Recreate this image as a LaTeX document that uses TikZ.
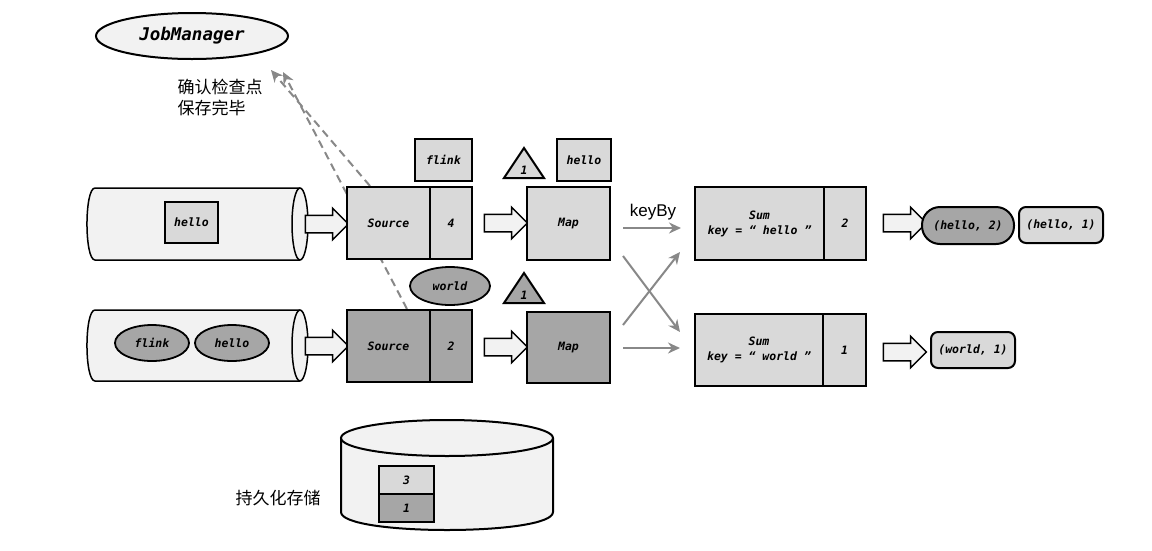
\documentclass[tikz,border=0pt]{standalone}
\usepackage{fontspec}
\setmainfont{Liberation Sans}
\newfontfamily\cjk{Noto Sans CJK SC}
\newfontfamily\monof{DejaVu Sans Mono}
\usetikzlibrary{shapes.geometric,shapes.arrows,arrows.meta,calc}
\pgfdeclarelayer{bg}
\pgfsetlayers{bg,main}
\definecolor{lg}{RGB}{217,217,217}
\definecolor{dg}{RGB}{166,166,166}
\definecolor{pale}{RGB}{242,242,242}
\definecolor{agray}{RGB}{136,136,136}
\tikzset{
  lbl/.style={font=\monof\bfseries\itshape\fontsize{11.5}{15}\selectfont},
  boxn/.style={draw, line width=2pt, fill=lg, inner sep=0pt, lbl, align=center},
  darkn/.style={boxn, fill=dg},
  ell/.style={ellipse, draw, line width=1.8pt, fill=dg, inner sep=0pt, lbl},
  barrow/.style={single arrow, draw, fill=pale, line width=1.5pt, minimum height=43pt,
    text height=8pt, text depth=8pt, text width=0pt, inner sep=0pt,
    single arrow head extend=7pt, single arrow tip angle=90},
  garrow/.style={draw=agray, line width=2pt, -{Stealth[length=12pt,width=11pt]}},
  dasharrow/.style={draw=agray, line width=2pt, dash pattern=on 8pt off 5pt,
    -{Stealth[length=12pt,width=11pt]}},
  cjkt/.style={font=\cjk\fontsize{17}{21}\selectfont, align=left}
}
\begin{document}
\begin{tikzpicture}[x=1pt,y=-1pt]
\useasboundingbox (0,0) rectangle (1152,550);
% JobManager
\node[ellipse, draw, line width=2pt, fill=pale, minimum width=192pt, minimum height=46pt,
  font=\monof\bfseries\itshape\fontsize{17.5}{19}\selectfont] (jm) at (192,36) {JobManager};
\node[cjkt, anchor=west] (ack) at (174,97) {确认检查点\\保存完毕};
\coordinate (jmA) at (271,70);
\coordinate (jmB) at (283,72);
% cylinders (queues)
\draw[line width=1.5pt, fill=pale] (300,188) -- (95,188) .. controls (84.3,188) and (84.3,260) .. (95,260) -- (300,260);
\draw[line width=1.5pt, fill=pale] (300,224) ellipse [x radius=8, y radius=36];
\draw[line width=1.5pt, fill=pale] (300,310) -- (95,310) .. controls (84.3,310) and (84.3,381) .. (95,381) -- (300,381);
\draw[line width=1.5pt, fill=pale] (300,345.5) ellipse [x radius=8, y radius=35.5];
\node[boxn, minimum width=53pt, minimum height=41pt] (q1) at (191.5,222.5) {hello};
\node[ell, minimum width=74pt, minimum height=36pt] (q2a) at (152,343) {flink};
\node[ell, minimum width=74pt, minimum height=36pt] (q2b) at (232,343) {hello};
% block arrows
\node[barrow] (ba1) at (322.5,224) {};
\node[barrow] (ba2) at (322.5,346) {};
\node[barrow] (ba3) at (501.5,223) {};
\node[barrow] (ba4) at (501.5,347) {};
\node[barrow] (ba5) at (900.5,223) {};
\node[barrow] (ba6) at (900.5,352) {};
% sources
\node[boxn, minimum width=83pt, minimum height=72pt] (src1) at (388.5,223) {Source};
\node[boxn, minimum width=42pt, minimum height=72pt] (c1) at (451,223) {4};
\node[darkn, minimum width=83pt, minimum height=72pt] (src2) at (388.5,346) {Source};
\node[darkn, minimum width=42pt, minimum height=72pt] (c2) at (451,346) {2};
\node[boxn, minimum width=57pt, minimum height=42pt] (fl) at (443.5,160) {flink};
\node[ell, minimum width=80pt, minimum height=38pt] (wo) at (450,286) {world};
% maps
\node[boxn, minimum width=83pt, minimum height=73pt] (map1) at (568.5,223.5) {Map};
\node[darkn, minimum width=83pt, minimum height=71pt] (map2) at (568.5,347.5) {Map};
\draw[line width=2pt, fill=lg, line join=miter] (524,148) -- (544,178) -- (504,178) -- cycle;
\node[lbl] (t1) at (524,170) {1};
\draw[line width=2pt, fill=dg, line join=miter] (524,273) -- (544,303) -- (504,303) -- cycle;
\node[lbl] (t2) at (524,295) {1};
\node[boxn, minimum width=54pt, minimum height=42pt] (hb) at (584,160) {hello};
\node[font=\fontsize{17}{20}\selectfont] (kb) at (653,212) {keyBy};
% sums
\node[boxn, minimum width=129pt, minimum height=73pt] (sum1) at (759.5,223.5) {Sum\\key = “ hello ”};
\node[boxn, minimum width=42pt, minimum height=73pt] (sc1) at (845,223.5) {2};
\node[boxn, minimum width=128pt, minimum height=72pt] (sum2) at (759,350) {Sum\\key = “ world ”};
\node[boxn, minimum width=43pt, minimum height=72pt] (sc2) at (844.5,350) {1};
% results
\node[darkn, rounded corners=18pt, minimum width=92pt, minimum height=37pt] (r1) at (968,225.5) {(hello, 2)};
\node[boxn, rounded corners=7pt, minimum width=84pt, minimum height=36pt] (r2) at (1061,225) {(hello, 1)};
\node[boxn, rounded corners=7pt, minimum width=84pt, minimum height=36pt] (r3) at (973,350) {(world, 1)};
% gray arrows
\draw[garrow] ([shift={(12,4.5)}]map1.east) -- ([shift={(-13,4.5)}]sum1.west);
\draw[garrow] ([shift={(12,32.5)}]map1.east) -- ([shift={(-14,-18)}]sum2.west);
\draw[garrow] ([shift={(12,-22.5)}]map2.east) -- ([shift={(-14,28.5)}]sum1.west);
\draw[garrow] ([shift={(12,0.5)}]map2.east) -- ([shift={(-14,-2)}]sum2.west);
% dashed ack arrows
\begin{pgfonlayer}{bg}
\draw[dasharrow] ([shift={(-18.5,0)}]src1.north) -- (jmA);
\draw[dasharrow] ([shift={(18.5,0)}]src2.north) -- (jmB);
\end{pgfonlayer}
% storage
\draw[line width=2pt, fill=pale] (341,438) -- (341,512) .. controls (341,536) and (553,536) .. (553,512) -- (553,438);
\draw[line width=2pt, fill=pale] (447,438) ellipse [x radius=106, y radius=18];
\node[boxn, minimum width=55pt, minimum height=28pt] (s3) at (406.5,480) {3};
\node[darkn, minimum width=55pt, minimum height=28pt] (s1) at (406.5,508) {1};
\node[cjkt] (st) at (278,498) {持久化存储};
\end{tikzpicture}
\end{document}
